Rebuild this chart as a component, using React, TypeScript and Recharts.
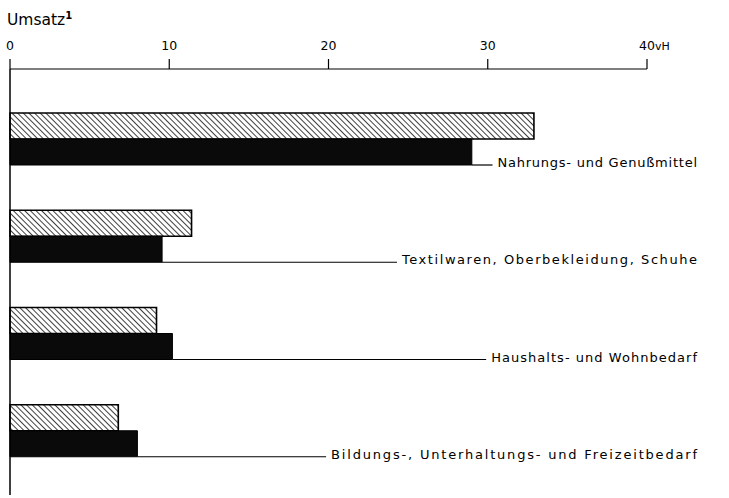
import React from 'react';
import { BarChart, Bar, XAxis, YAxis, LabelList } from 'recharts';

const categories = [
  'Nahrungs- und Genußmittel',
  'Textilwaren, Oberbekleidung, Schuhe',
  'Haushalts- und Wohnbedarf',
  'Bildungs-, Unterhaltungs- und Freizeitbedarf',
];
const hatchedValues = [32.9, 11.4, 9.2, 6.8];
const solidValues = [29.0, 9.55, 10.2, 8.0];
const tickValues = [0, 10, 20, 30, 40];
// where each leader line ends, in vH units
const leaderEnds = [30.3, 24.3, 29.9, 19.85];

const data = categories.map((name, i) => ({
  name,
  hatched: hatchedValues[i],
  solid: solidValues[i],
}));

const FONT = '"DejaVu Sans", sans-serif';
const LABEL_RIGHT = 697;

const Tick = (props: any) => {
  const { x, y, payload } = props;
  const v = payload.value;
  return (
    <g>
      <text x={x} y={y} textAnchor="middle" fontFamily={FONT} fontSize={12.5} fill="#000">
        {v}
      </text>
      {v === 40 ? (
        <text x={x + 8} y={y} textAnchor="start" fontFamily={FONT} fontSize={11} fill="#000">
          vH
        </text>
      ) : null}
    </g>
  );
};

const LeaderLabel = (props: any) => {
  const { x, y, width, height, index } = props;
  const i = index ?? 0;
  const ppu = width / solidValues[i];
  const endX = x + leaderEnds[i] * ppu;
  const yy = y + height;
  const tx = endX + 5;
  return (
    <g>
      <line x1={x + width} y1={yy} x2={endX} y2={yy} stroke="#000" strokeWidth={1.2} />
      <text
        x={tx}
        y={yy + 2}
        fontFamily={FONT}
        fontSize={13}
        textLength={LABEL_RIGHT - tx}
        lengthAdjust="spacing"
        fill="#000"
      >
        {categories[i]}
      </text>
    </g>
  );
};

export default function App() {
  return (
    <div style={{ position: 'absolute', left: 0, top: 0, width: 729, height: 498, background: '#fff' }}>
      <svg width={0} height={0} style={{ position: 'absolute' }}>
        <defs>
          <pattern id="hatch" patternUnits="userSpaceOnUse" width={4} height={4} patternTransform="rotate(-45)">
            <rect x={0} y={0} width={4} height={4} fill="#fff" />
            <line x1={0} y1={0} x2={0} y2={4} stroke="#000" strokeWidth={1.5} />
          </pattern>
        </defs>
      </svg>
      <svg width={200} height={34} style={{ position: 'absolute', left: 0, top: 0 }}>
        <text x={7} y={25} fontFamily={FONT} fontSize={15.5} fill="#000">
          Umsatz
          <tspan dy={-6} fontSize={10} fontWeight="bold">1</tspan>
        </text>
      </svg>
      <BarChart
        width={729}
        height={498}
        data={data}
        layout="vertical"
        barGap={0}
        barSize={26}
        margin={{ top: 9, right: 82, bottom: 3, left: 9 }}
      >
        <XAxis
          type="number"
          orientation="top"
          domain={[0, 40]}
          ticks={tickValues}
          axisLine={{ stroke: '#000', strokeWidth: 1.2 }}
          tickLine={{ stroke: '#000', strokeWidth: 1.2 }}
          tickSize={10}
          tickMargin={9}
          height={60}
          tick={<Tick />}
          interval={0}
        />
        <YAxis
          type="category"
          dataKey="name"
          width={1}
          tick={false}
          tickLine={false}
          axisLine={{ stroke: '#000', strokeWidth: 1.5 }}
          padding={{ top: 21, bottom: 16 }}
        />
        <Bar dataKey="hatched" fill="url(#hatch)" stroke="#000" strokeWidth={1.6} isAnimationActive={false} />
        <Bar dataKey="solid" fill="#0a0a0a" stroke="#000" strokeWidth={1} isAnimationActive={false}>
          <LabelList dataKey="solid" content={<LeaderLabel />} />
        </Bar>
      </BarChart>
    </div>
  );
}
